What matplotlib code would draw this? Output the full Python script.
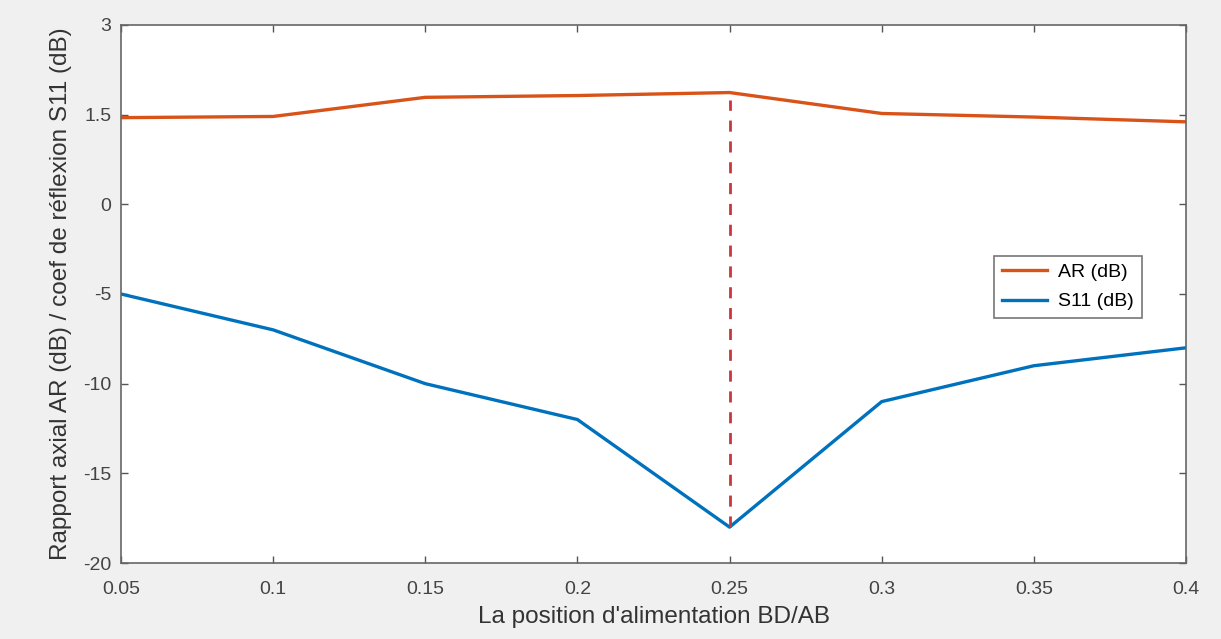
"""
AR / S11 en fonction de la position d'alimentation
"""
import matplotlib
matplotlib.use('Agg')
import matplotlib.pyplot as plt
import numpy as np

plt.rcParams['font.family'] = ['Liberation Sans', 'DejaVu Sans']

# donnees
pos = [0.05, 0.10, 0.15, 0.20, 0.25, 0.30, 0.35, 0.40]
ar_db = [1.45, 1.47, 1.79, 1.82, 1.87, 1.52, 1.46, 1.38]
s11_db = [-5, -7, -10, -12, -18, -11, -9, -8]
x_ticks = [0.05, 0.1, 0.15, 0.2, 0.25, 0.3, 0.35, 0.4]
y_ticks = [-20, -15, -10, -5, 0, 1.5, 3]
y_ticklabels = ['-20', '-15', '-10', '-5', '0', '1.5', '3']
x_opt = 0.25  # position optimale (trait rouge)


# echelle par morceaux : partie positive dilatee (3 dB <-> 10 unites)
def fwd(y):
    y = np.asarray(y, dtype=float)
    return np.where(y >= 0, y * 10 / 3, y)


def inv(y):
    y = np.asarray(y, dtype=float)
    return np.where(y >= 0, y * 3 / 10, y)


fig = plt.figure(figsize=(12.21, 6.39), dpi=100, facecolor='#f0f0f0')
ax = fig.add_axes([121 / 1221, 1 - 563 / 639, 1065 / 1221, 538 / 639])
ax.set_yscale('function', functions=(fwd, inv))

ax.plot(pos, ar_db, color='#D95319', lw=2.4, label='AR (dB)')
ax.plot(pos, s11_db, color='#0072BD', lw=2.4, label='S11 (dB)')
i_opt = pos.index(x_opt)
ax.vlines(x_opt, s11_db[i_opt], ar_db[i_opt] - 0.12, colors='#c9373c',
          linestyles=(0, (4, 3.5)), lw=2)

ax.set_xlim(0.05, 0.4)
ax.set_ylim(-20, 3)
ax.set_xticks(x_ticks)
ax.set_xticklabels([f'{v:g}' for v in x_ticks])
ax.set_yticks(y_ticks)
ax.set_yticklabels(y_ticklabels)
ax.minorticks_off()
ax.tick_params(direction='in', top=True, right=True, length=5, width=1,
               colors='#555555', labelcolor='#444444', labelsize=14, pad=7)
ax.tick_params(axis='x', pad=13)
for sp in ax.spines.values():
    sp.set_color('#666666')
    sp.set_linewidth(1.2)

ax.set_xlabel("La position d'alimentation BD/AB", fontsize=17.5,
              color='#333333', labelpad=6)
ax.set_ylabel('Rapport axial AR (dB) / coef de réflexion S11 (dB)',
              fontsize=17.5, color='#333333', labelpad=8)

leg = ax.legend(loc='upper left', bbox_to_anchor=(0.82, 0.571), fontsize=14,
                frameon=True, fancybox=False, handlelength=2.3,
                handletextpad=0.6, borderpad=0.4, labelspacing=0.6,
                borderaxespad=0)
leg.get_frame().set_edgecolor('#555555')
leg.get_frame().set_linewidth(1.2)

plt.savefig('out.png', dpi=100, facecolor=fig.get_facecolor())
plt.close()
